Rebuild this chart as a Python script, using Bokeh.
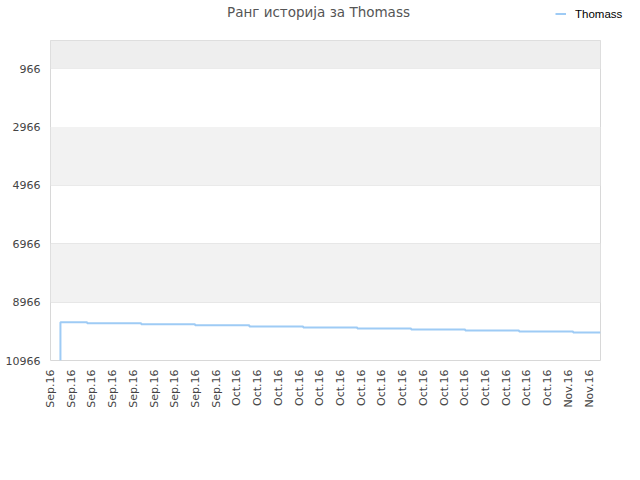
import math
from bokeh.plotting import figure
from bokeh.layouts import column
from bokeh.models import Range1d, FixedTicker, Legend, LegendItem, BoxAnnotation, Label
from bokeh.embed import file_html
from bokeh.resources import INLINE

# ---- data ----
tick_pos = list(range(27))
tick_labels = ["Sep.16"] * 9 + ["Oct.16"] * 16 + ["Nov.16"] * 2
step_x = [0.48, 0.48, 1.77, 4.38, 6.98, 9.60, 12.20, 14.81, 17.41, 20.02, 22.62, 25.23, 26.55]
rank = [10966, 9655, 9693, 9727, 9761, 9799, 9833, 9868, 9902, 9936, 9974, 10008, 10008]
y_ticks = [966, 2966, 4966, 6966, 8966, 10966]
series_name = "Thomass"
title_text = "Ранг историја за Thomass"

FONT = "DejaVu Sans"
LINE_COLOR = "#9ecbf5"

# ---- header (title + legend) ----
head = figure(width=624, height=40, output_backend="svg", toolbar_location=None,
              x_range=Range1d(0, 624), y_range=Range1d(40, 0),
              x_axis_type=None, y_axis_type=None, min_border=0,
              min_border_left=0, min_border_right=0, min_border_top=0, min_border_bottom=0)
head.frame_align = False
head.outline_line_color = None
head.xgrid.visible = False
head.ygrid.visible = False
head.background_fill_color = "white"
head.border_fill_color = "white"
head.add_layout(Label(x=318, y=11.5, text=title_text, text_font=FONT, text_font_size="13.5px",
                      text_color="#555555", text_align="center", text_baseline="middle"))
swatch = head.line([0, 0], [0, 0], line_color=LINE_COLOR, line_width=2, line_alpha=1)
legend = Legend(items=[LegendItem(label=series_name, renderers=[swatch])], location=(555, 13),
                orientation="vertical", border_line_alpha=0, background_fill_alpha=0,
                label_text_font="Liberation Sans", label_text_font_size="11.5px", label_text_color="#000000",
                glyph_width=11, glyph_height=27, label_height=27, label_standoff=9,
                padding=0, margin=0, spacing=0)
head.add_layout(legend)

# ---- main chart ----
p = figure(width=624, height=424, output_backend="svg", toolbar_location=None,
           x_range=Range1d(0, 26.55), y_range=Range1d(10966, 0),
           min_border_left=50, min_border_right=24, min_border_top=0, min_border_bottom=104)
p.frame_align = False
p.background_fill_color = "white"
p.border_fill_color = "white"
p.outline_line_color = "#d8d8d8"
p.outline_line_width = 1

# bands
p.add_layout(BoxAnnotation(bottom=966, top=0, fill_color="#eeeeee", fill_alpha=1, line_alpha=0, level="underlay"))
p.add_layout(BoxAnnotation(bottom=4966, top=2966, fill_color="#f2f2f2", fill_alpha=1, line_alpha=0, level="underlay"))
p.add_layout(BoxAnnotation(bottom=8966, top=6966, fill_color="#f2f2f2", fill_alpha=1, line_alpha=0, level="underlay"))

p.xgrid.grid_line_color = None
p.ygrid.grid_line_color = "#e3e3e3"
p.ygrid.ticker = FixedTicker(ticks=y_ticks)

r = p.step(step_x, rank, mode="after", line_color=LINE_COLOR, line_width=2)

# axes
p.xaxis.ticker = FixedTicker(ticks=tick_pos)
p.xaxis.major_label_overrides = {t: l for t, l in zip(tick_pos, tick_labels)}
p.xaxis.major_label_orientation = math.pi / 2
p.yaxis.ticker = FixedTicker(ticks=y_ticks)
for ax in (p.xaxis[0], p.yaxis[0]):
    ax.axis_line_color = None
    ax.major_tick_line_color = None
    ax.minor_tick_line_color = None
    ax.major_tick_out = 0
    ax.major_tick_in = 0
    ax.minor_tick_out = 0
    ax.minor_tick_in = 0
    ax.major_label_text_font = FONT
    ax.major_label_text_font_size = "11px"
    ax.major_label_text_color = "#444444"
p.xaxis.major_label_standoff = 9
p.yaxis.major_label_standoff = 10

layout = column(head, p, spacing=0)
open("out.html", "w").write(file_html(layout, INLINE))
